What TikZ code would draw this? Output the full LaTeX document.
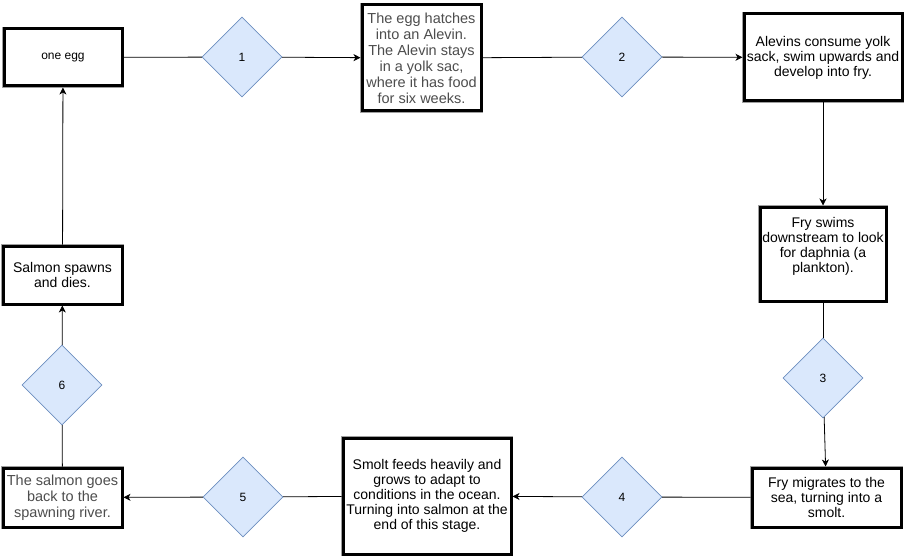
\documentclass[tikz,border=0pt]{standalone}
\usepackage{fontspec}
\setmainfont{Liberation Sans}
\usetikzlibrary{shapes.geometric,arrows.meta}
\definecolor{dfill}{HTML}{DAE8FC}
\definecolor{dline}{HTML}{6C8EBF}
\definecolor{tgrey}{HTML}{4D4D4D}
\begin{document}
\begin{tikzpicture}[x=1pt,y=-1pt,
  box/.style={rectangle, draw=black, line width=3pt,
    preaction={draw=gray!75, line width=4.6pt},
    fill=white, inner sep=0pt, align=center, font=\fontsize{14}{15}\selectfont},
  dia/.style={diamond, draw=dline, fill=dfill, line width=0.6pt, minimum width=80pt, minimum height=80pt, inner sep=0pt, aspect=1, font=\fontsize{12}{14}\selectfont},
  conn/.style={line width=0.8pt, draw=black},
  arr/.style={conn, -{Stealth[length=7pt,width=7pt,inset=2pt]}}]
\useasboundingbox (0,0) rectangle (905,559);
\node[box, minimum width=118pt, minimum height=57pt] (egg) at (63,57.5) {\fontsize{12}{14}\selectfont one egg};
\node[box, minimum width=119pt, minimum height=106pt, text=tgrey, font=\fontsize{14.5}{16}\selectfont] (hatch) at (421.5,58) {The egg hatches\\into an Alevin.\\The Alevin stays\\in a yolk sac,\\where it has food\\for six weeks.};
\node[box, minimum width=158pt, minimum height=87pt] (alev) at (823,57.5) {Alevins consume yolk\\sack, swim upwards and\\develop into fry.};
\node[box, minimum width=126pt, minimum height=94pt] (fsw) at (823,254) {\raisebox{0pt}[\height][\dimexpr\depth+14pt\relax]{\begin{tabular}{@{}c@{}}Fry swims\\downstream to look\\for daphnia (a\\plankton).\end{tabular}}};
\node[box, minimum width=149pt, minimum height=59pt] (fmig) at (826.5,497.5) {Fry migrates to the\\sea, turning into a\\smolt.};
\node[box, minimum width=168pt, minimum height=116pt] (smolt) at (427,496) {Smolt feeds heavily and\\grows to adapt to\\conditions in the ocean.\\Turning into salmon at the\\end of this stage.};
\node[box, minimum width=119pt, minimum height=59pt, text=tgrey, font=\fontsize{14.5}{16}\selectfont] (back) at (62.5,497.5) {The salmon goes\\back to the\\spawning river.};
\node[box, minimum width=119pt, minimum height=58pt] (spawn) at (62.5,275) {Salmon spawns\\and dies.};
\node[dia] (d1) at (242,57) {1};
\node[dia] (d2) at (622,57) {2};
\node[dia] (d3) at (823,378) {3};
\node[dia] (d4) at (622,497) {4};
\node[dia] (d5) at (243,497) {5};
\node[dia] (d6) at (62,385) {6};
\draw[conn] (egg) -- (d1);
\draw[arr] (d1) -- (hatch);
\draw[conn] (hatch) -- (d2);
\draw[arr] (d2) -- (alev);
\draw[arr] (alev) -- (fsw);
\draw[conn] (fsw) -- (d3);
\draw[arr] (d3) -- (fmig);
\draw[conn] (fmig) -- (d4);
\draw[arr] (d4) -- (smolt);
\draw[conn] (smolt) -- (d5);
\draw[arr] (d5) -- (back);
\draw[conn] (back) -- (d6);
\draw[arr] (d6) -- (spawn);
\draw[arr] (spawn) -- (egg);
\end{tikzpicture}
\end{document}
